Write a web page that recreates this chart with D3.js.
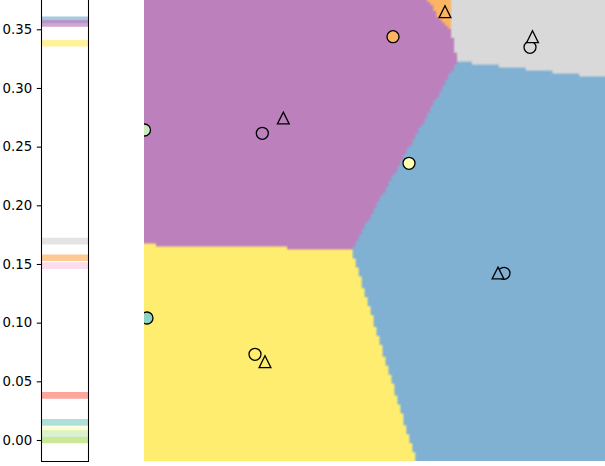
<!DOCTYPE html>
<html>
<head>
<meta charset="utf-8">
<script src="https://cdn.jsdelivr.net/npm/d3@7"></script>
<style>
  html, body { margin: 0; padding: 0; background: #fff; }
  svg { display: block; }
  text { font-family: "DejaVu Sans", sans-serif; }
</style>
</head>
<body>
<svg id="chart" width="605" height="466"></svg>
<script>
// ---------------- data ----------------
const classColors = d3.schemeSet3; // 12 classes

// left strip: one level per class (class index order)
const levelValues = [0.0151, 0.0085, 0.378, 0.0381, 0.358, 0.1553, 0.0, 0.1486, 0.1694, 0.3551, 0.0054, 0.3381];
const levelTicks = [0.00, 0.05, 0.10, 0.15, 0.20, 0.25, 0.30, 0.35];

// right map: decision regions (class index + polygon in map units)
const regionClass = [9, 5, 8, 4, 11];
const regionPurple = [[-1, 47], [28.5, 47], [28.6, 46.1], [29.7, 44.1], [30.9, 43.2], [31.5, 39.9], [20.9, 21.0], [-1, 21.5]];
const regionOrange = [[28.5, 47], [30.9, 47], [30.9, 43.2], [29.7, 44.1], [28.6, 46.1]];
const regionGray   = [[30.9, 47], [47, 47], [47, 38.2], [31.5, 39.9], [30.9, 43.2]];
const regionBlue   = [[31.5, 39.9], [47, 38.2], [47, -1], [27.6, -1], [20.9, 21.0]];
const regionYellow = [[-1, 21.5], [20.9, 21.0], [27.6, -1], [-1, -1]];
const regionPolygons = [regionPurple, regionOrange, regionGray, regionBlue, regionYellow];

// circles
const circleClass = [10, 0, 9, 5, 1, 8, 4, 11];
const circleX = [0.05, 0.3, 11.83, 24.9, 26.5, 38.6, 36.0, 11.1];
const circleY = [33.1, 14.3, 32.77, 42.43, 29.77, 41.37, 18.77, 10.67];

// triangles
const triClass = [9, 5, 8, 4, 11];
const triX = [13.93, 30.1, 38.85, 35.4, 12.1];
const triY = [34.3, 44.93, 42.43, 18.8, 9.93];

// ---------------- layout ----------------
const svg = d3.select("#chart");

// left strip axes
const L = { left: 41.5, right: 88.5, bottom: 461.5 };
const yL = d3.scaleLinear().domain([0, 0.35]).range([440, 29.3]);

const gL = svg.append("g");
gL.selectAll("line.level")
  .data(levelValues)
  .enter().append("line")
  .attr("class", "level")
  .attr("x1", L.left).attr("x2", L.right)
  .attr("y1", d => yL(d)).attr("y2", d => yL(d))
  .attr("stroke", (d, i) => classColors[i])
  .attr("stroke-opacity", 0.7)
  .attr("stroke-width", 6.7);

const axisL = d3.axisLeft(yL).tickValues(levelTicks).tickFormat(d3.format(".2f"))
  .tickSize(4.7).tickPadding(4.6);
const gAx = svg.append("g").attr("transform", `translate(${L.left},0)`).call(axisL);
gAx.select(".domain").remove();
gAx.selectAll("text").attr("font-size", "13.3px").attr("fill", "#000")
  .style("font-family", "DejaVu Sans, sans-serif");
gAx.selectAll("line").attr("stroke", "#000").attr("stroke-width", 1.07);

// spines
svg.append("line").attr("x1", L.left).attr("x2", L.left).attr("y1", -5).attr("y2", L.bottom)
  .attr("stroke", "#000").attr("stroke-width", 1.07);
svg.append("line").attr("x1", L.right).attr("x2", L.right).attr("y1", -5).attr("y2", L.bottom)
  .attr("stroke", "#000").attr("stroke-width", 1.07);
svg.append("line").attr("x1", L.left - 0.5).attr("x2", L.right + 0.5).attr("y1", L.bottom).attr("y2", L.bottom)
  .attr("stroke", "#000").attr("stroke-width", 1.07);

// right map axes
const R = { left: 144, right: 605, top: 0, bottom: 461 };
const xM = d3.scaleLinear().domain([0, 46.1]).range([R.left, R.right]);
const yM = d3.scaleLinear().domain([0, 46.1]).range([R.bottom, R.top]);

svg.append("clipPath").attr("id", "mapclip")
  .append("rect").attr("x", R.left).attr("y", R.top)
  .attr("width", R.right - R.left).attr("height", R.bottom - R.top);

// rasterise decision regions on a coarse grid
const cell = 0.3;
const cols = Math.ceil(46.2 / cell), rows = Math.ceil(46.2 / cell);
const canvas = document.createElement("canvas");
canvas.width = cols; canvas.height = rows;
const ctx = canvas.getContext("2d");
for (let r = 0; r < rows; r++) {
  for (let c = 0; c < cols; c++) {
    const px = (c + 0.5) * cell;
    const py = 46.2 - (r + 0.5) * cell;
    let k = 0;
    for (let p = 0; p < regionPolygons.length; p++) {
      if (d3.polygonContains(regionPolygons[p], [px, py])) { k = p; break; }
    }
    ctx.fillStyle = classColors[regionClass[k]];
    ctx.fillRect(c, r, 1, 1);
  }
}
const gM = svg.append("g").attr("clip-path", "url(#mapclip)");
gM.append("image")
  .attr("href", canvas.toDataURL())
  .attr("x", xM(0)).attr("y", yM(46.2))
  .attr("width", xM(46.2) - xM(0)).attr("height", yM(0) - yM(46.2))
  .attr("preserveAspectRatio", "none");

// circles
gM.selectAll("circle.pt")
  .data(circleClass.map((k, i) => ({ k, x: circleX[i], y: circleY[i] })))
  .enter().append("circle")
  .attr("class", "pt")
  .attr("cx", d => xM(d.x)).attr("cy", d => yM(d.y))
  .attr("r", 6)
  .attr("fill", d => classColors[d.k])
  .attr("stroke", "#000").attr("stroke-width", 1.3);

// triangles
const s = 5.9;
gM.selectAll("path.tri")
  .data(triClass.map((k, i) => ({ k, x: triX[i], y: triY[i] })))
  .enter().append("path")
  .attr("class", "tri")
  .attr("transform", d => `translate(${xM(d.x)},${yM(d.y)})`)
  .attr("d", `M0,${-s}L${s},${s}L${-s},${s}Z`)
  .attr("fill", d => classColors[d.k])
  .attr("stroke", "#000").attr("stroke-width", 1.3)
  .attr("stroke-linejoin", "miter");
</script>
</body>
</html>
